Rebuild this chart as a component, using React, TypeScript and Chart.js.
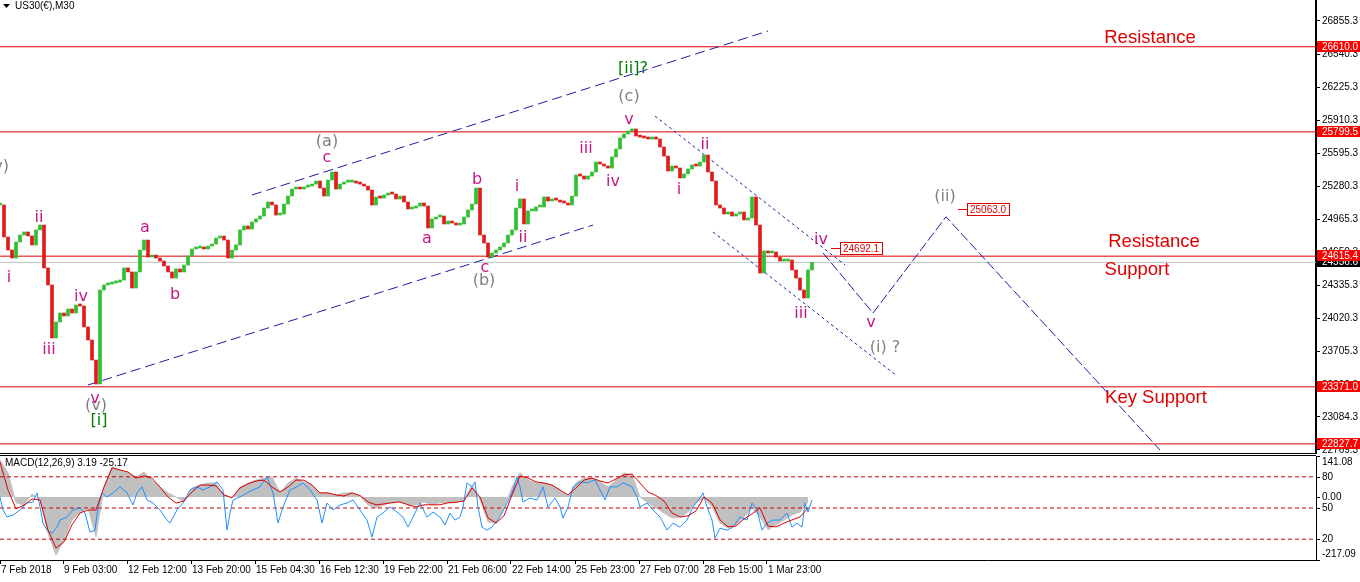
import React, { useEffect, useRef } from "react";
import { Chart, registerables } from "chart.js";

Chart.register(...registerables);

// ---------------- data ----------------
const symbolTitle = "US30(€),M30";
const macdTitle = "MACD(12,26,9) 3.19 -25.17";

// each close stands for a 2-hour block (4 x M30 bars)
const barsPerClose = 4;
const closePrices = [
  25103, 24798, 24674, 24598, 24750, 24817, 24846, 24808, 24722, 24865,
  24912, 24503, 24341, 23836, 23988, 24074, 24046, 24112, 24074, 24150,
  24141, 23941, 23817, 23626, 23398, 24293, 24341, 24350, 24360, 24369,
  24388, 24503, 24465, 24312, 24465, 24674, 24769, 24607, 24626, 24598,
  24569, 24522, 24465, 24407, 24493, 24465, 24531, 24617, 24684, 24693,
  24703, 24684, 24712, 24731, 24788, 24807, 24769, 24598, 24674, 24722,
  24865, 24903, 24874, 24941, 24969, 24998, 25074, 25131, 25103, 25007,
  25017, 25112, 25188, 25255, 25264, 25255, 25274, 25283, 25302, 25331,
  25264, 25188, 25340, 25417, 25255, 25302, 25321, 25321, 25331, 25312,
  25302, 25283, 25245, 25103, 25179, 25169, 25198, 25217, 25207, 25160,
  25188, 25131, 25065, 25074, 25093, 25122, 25093, 24884, 24969, 24988,
  24998, 24922, 24950, 24931, 24912, 24922, 24988, 25055, 25112, 25264,
  24817, 24741, 24607, 24645, 24674, 24703, 24741, 24817, 24865, 25074,
  25160, 24922, 25046, 25046, 25084, 25084, 25179, 25141, 25160, 25150,
  25131, 25122, 25103, 25188, 25388, 25379, 25350, 25379, 25417, 25512,
  25493, 25474, 25455, 25560, 25636, 25741, 25779, 25808, 25827, 25760,
  25750, 25741, 25731, 25750, 25731, 25655, 25569, 25427, 25474, 25455,
  25360, 25398, 25446, 25484, 25474, 25512, 25579, 25417, 25331, 25103,
  25074, 25017, 25036, 24998, 25017, 25036, 24960, 24979, 25179, 24912,
  24455, 24665, 24646, 24655, 24607, 24569, 24569, 24579, 24484, 24407,
  24293, 24217, 24484, 24557,
];

const priceMin = 22731.1;
const priceMax = 27055.3;
const priceTicks = [
  26855.3, 26540.3, 26225.3, 25910.3, 25595.3, 25280.3, 24965.3, 24650.3,
  24335.3, 24020.3, 23705.3, 23390.3, 23084.3, 22769.3,
];
const levelPrices = [26610.0, 25799.5, 24615.4, 23371.0, 22827.7];
const bidPrice = 24556.6;

const timeTickBars = [0, 63, 127, 191, 255, 319, 383, 447, 511, 575, 639, 703, 767];
const timeTickLabels = [
  "7 Feb 2018", "9 Feb 03:00", "12 Feb 12:00", "13 Feb 20:00", "15 Feb 04:30",
  "16 Feb 12:30", "19 Feb 22:00", "21 Feb 06:00", "22 Feb 14:00", "25 Feb 23:00",
  "27 Feb 07:00", "28 Feb 15:00", "1 Mar 23:00",
];

// MACD sampled every 4 hours (8 x M30 bars)
const barsPerMacd = 8;
const macdMain = [
  127, 83, -20, -28, 10, -10, -124, -200, -148, -79,
  -52, -38, -138, 34, 103, 93, 83, 69, 86, 58,
  34, 14, 0, -17, 31, 41, 48, 48, 7, -3,
  34, 48, 58, 65, 69, 14, 48, 65, 52, 41,
  14, 14, 7, 14, 14, 2, -27, -38, -27, -17,
  -17, -27, -27, -17, -27, -20, -20, -20, -10, 41,
  -10, -86, -90, -38, 34, 83, 58, 48, 48, 41,
  24, 3, 48, 65, 65, 52, 34, 58, 83, 76,
  0, -20, -38, -55, -72, -69, -52, -20, -3, -34,
  -90, -107, -96, -69, -38, -69, -113, -96, -79, -62,
  -52, -17,
];
const macdSignal = [
  120, 24, -41, -28, -7, -10, -114, -176, -155, -96,
  -55, -45, -45, 34, 100, 93, 86, 65, 72, 65,
  34, 0, -21, -14, 17, 41, 41, 38, 7, -3,
  31, 45, 55, 58, 34, 17, 34, 58, 58, 41,
  14, 14, 7, 3, 14, 5, -17, -27, -24, -20,
  -17, -27, -34, -27, -27, -27, -20, -18, -14, 31,
  0, -72, -90, -65, 7, 72, 65, 52, 48, 41,
  24, 7, 31, 58, 65, 55, 48, 62, 76, 79,
  48, 17, 5, -14, -55, -69, -65, -48, 0, -21,
  -79, -103, -100, -76, -58, -38, -100, -103, -90, -79,
  -69, -38,
];
const macdMax = 141.08;
const macdMin = -217.09;

const rsiBars = [
  0, 3, 7, 13, 20, 27, 33, 37, 40, 43, 47, 52, 57, 60, 67, 73, 80, 85, 90, 95,
  98, 102, 107, 113, 120, 127, 133, 137, 142, 147, 153, 160, 167, 170, 177, 183, 190, 197, 203, 210,
  217, 223, 227, 230, 233, 240, 247, 253, 260, 267, 273, 278, 283, 290, 297, 303, 310, 317, 322, 327,
  333, 340, 347, 353, 360, 367, 372, 377, 383, 390, 397, 403, 408, 413, 420, 427, 433, 440, 445, 450,
  455, 460, 463, 467, 472, 475, 478, 482, 487, 492, 495, 500, 507, 512, 517, 520, 523, 530, 537, 543,
  548, 555, 560, 563, 568, 573, 580, 587, 595, 600, 605, 610, 617, 623, 632, 637, 640, 647, 653, 660,
  667, 673, 680, 687, 693, 700, 703, 707, 712, 715, 720, 727, 733, 740, 747, 752, 757, 762, 767, 773,
  780, 787, 792, 797, 802, 805, 808, 812,
];
const rsiValues = [
  60.6, 48.1, 41.3, 43.2, 48.1, 54.8, 55.8, 64.5, 51.0, 35.5, 28.7, 25.8, 31.6, 38.4, 41.3, 48.1, 50.0, 45.2, 26.8, 28.7,
  51.0, 64.5, 60.6, 64.5, 70.3, 64.5, 52.9, 64.5, 70.3, 57.7, 54.8, 48.1, 38.4, 35.5, 48.1, 54.8, 67.4, 70.3, 67.4, 70.3,
  75.1, 67.4, 28.7, 45.2, 57.7, 60.6, 64.5, 67.4, 70.3, 80.0, 64.5, 35.5, 51.0, 67.4, 70.3, 74.2, 67.4, 57.7, 35.5, 54.8,
  48.1, 52.9, 54.8, 57.7, 48.1, 38.4, 22.0, 41.3, 45.2, 51.0, 46.1, 41.3, 31.6, 41.3, 54.8, 41.3, 46.1, 41.3, 33.6, 45.2,
  38.4, 41.3, 51.0, 74.2, 70.3, 75.1, 51.0, 31.6, 28.7, 31.6, 35.5, 41.3, 54.8, 64.5, 80.0, 70.3, 55.8, 59.7, 57.7, 70.3,
  51.0, 59.7, 51.0, 40.3, 51.0, 70.3, 75.1, 74.2, 77.1, 67.4, 57.7, 70.3, 70.3, 74.2, 70.3, 60.6, 51.0, 54.8, 48.1, 41.3,
  28.7, 35.5, 31.6, 38.4, 51.0, 59.7, 64.5, 51.0, 38.4, 21.0, 30.6, 28.7, 31.6, 41.3, 38.4, 54.8, 48.1, 28.7, 35.5, 38.4,
  38.4, 45.2, 31.6, 35.5, 31.6, 54.8, 46.1, 57.7,
];
const rsiLevels = [80, 50, 20];

// trend / channel lines (bar index, price)
const upperChannelBars = [252, 768];
const upperChannelPrices = [25198, 26760];
const lowerChannelBars = [88, 593];
const lowerChannelPrices = [23388, 24912];
const downUpperBars = [655, 845];
const downUpperPrices = [25950, 24531];
const downLowerBars = [713, 897];
const downLowerPrices = [24846, 23474];
const projectionBars = [823, 873, 946, 1160];
const projectionPrices = [24646, 24074, 24990, 22769];

// wave labels: bar, price, text, style (m = minor, g = gray, G = green, R = red note)
const waveLabels: [number, number, string, string][] = [
  [-2, 25465, "(v)", "g"],
  [9, 24407, "i", "m"],
  [39, 24979, "ii", "m"],
  [49, 23722, "iii", "m"],
  [81, 24226, "iv", "m"],
  [95, 23255, "v", "m"],
  [96, 23188, "(v)", "g"],
  [99, 23045, "[i]", "G"],
  [145, 24884, "a", "m"],
  [175, 24245, "b", "m"],
  [327, 25703, "(a)", "g"],
  [327, 25550, "c", "m"],
  [477, 25341, "b", "m"],
  [427, 24779, "a", "m"],
  [485, 24503, "c", "m"],
  [484, 24379, "(b)", "g"],
  [517, 25274, "i", "m"],
  [523, 24788, "ii", "m"],
  [586, 25636, "iii", "m"],
  [613, 25322, "iv", "m"],
  [629, 25912, "v", "m"],
  [629, 26131, "(c)", "g"],
  [633, 26398, "[ii]?", "G"],
  [705, 25674, "ii", "m"],
  [679, 25246, "i", "m"],
  [801, 24065, "iii", "m"],
  [821, 24769, "iv", "m"],
  [871, 23979, "v", "m"],
  [885, 23741, "(i) ?", "g"],
  [945, 25179, "(ii)", "g"],
  [1150, 26693, "Resistance", "R"],
  [1154, 24750, "Resistance", "R"],
  [1137, 24484, "Support", "R"],
  [1156, 23264, "Key Support", "R"],
];
const targetBars = [831, 958];
const targetPrices = [24692.1, 25063.0];

// ---------------- styles ----------------
const AXIS_FONT = { family: "'Liberation Sans', Arial, sans-serif", size: 10 };
const UP = "#2fbf2f";
const DOWN = "#e01b1b";
const LEVEL_RED = "#e00000";
const LINE_BLUE = "#1c1ca8";
const labelStyles: Record<string, { color: string; font: string }> = {
  m: { color: "#c71585", font: "16px 'DejaVu Sans', sans-serif" },
  g: { color: "#808080", font: "16px 'DejaVu Sans', sans-serif" },
  G: { color: "#008000", font: "16px 'DejaVu Sans', sans-serif" },
  R: { color: "#e00000", font: "18.5px 'Liberation Sans', Arial, sans-serif" },
};

function lineDataset(bars: number[], values: number[], color: string, dash: number[], yAxisID = "y", extra: any = {}) {
  return {
    type: "line" as const,
    data: bars.map((b, i) => ({ x: b, y: values[i] })),
    borderColor: color,
    borderWidth: 1,
    borderDash: dash,
    pointRadius: 0,
    fill: false,
    tension: 0,
    yAxisID,
    xAxisID: "x",
    ...extra,
  };
}

const mainDecor = {
  id: "mainDecor",
  afterDatasetsDraw(chart: any) {
    const { ctx, chartArea } = chart;
    const xs = chart.scales.x;
    const ys = chart.scales.y;
    ctx.save();
    // bottom frame
    ctx.strokeStyle = "#000";
    ctx.lineWidth = 1;
    ctx.beginPath();
    ctx.moveTo(0, chartArea.bottom - 0.5);
    ctx.lineTo(chartArea.right, chartArea.bottom - 0.5);
    ctx.stroke();
    // wave labels
    ctx.textAlign = "center";
    ctx.textBaseline = "middle";
    for (const [bar, price, text, style] of waveLabels) {
      const st = labelStyles[style];
      ctx.font = st.font;
      ctx.fillStyle = st.color;
      ctx.fillText(text, xs.getPixelForValue(bar), ys.getPixelForValue(price));
    }
    // target tags
    ctx.font = "10px 'Liberation Sans', Arial, sans-serif";
    ctx.textAlign = "left";
    targetBars.forEach((bar, i) => {
      const px = Math.round(xs.getPixelForValue(bar));
      const py = Math.round(ys.getPixelForValue(targetPrices[i]));
      ctx.strokeStyle = LEVEL_RED;
      ctx.beginPath();
      ctx.moveTo(px, py + 0.5);
      ctx.lineTo(px + 9, py + 0.5);
      ctx.stroke();
      ctx.fillStyle = "#fff";
      ctx.fillRect(px + 9, py - 6, 42, 12);
      ctx.strokeRect(px + 9.5, py - 5.5, 42, 12);
      ctx.fillStyle = LEVEL_RED;
      ctx.fillText(targetPrices[i].toFixed(1), px + 12, py + 1);
    });
    // title
    ctx.fillStyle = "#000";
    ctx.beginPath();
    ctx.moveTo(3, 4);
    ctx.lineTo(10, 4);
    ctx.lineTo(6.5, 8);
    ctx.closePath();
    ctx.fill();
    ctx.font = "10px 'Liberation Sans', Arial, sans-serif";
    ctx.textBaseline = "middle";
    ctx.fillText(symbolTitle, 15, 6);
    ctx.restore();
  },
  afterDraw(chart: any) {
    const { ctx, chartArea } = chart;
    const ys = chart.scales.y;
    ctx.save();
    ctx.font = "10px 'Liberation Sans', Arial, sans-serif";
    ctx.textAlign = "left";
    ctx.textBaseline = "middle";
    const box = (price: number, bg: string) => {
      const py = Math.round(ys.getPixelForValue(price));
      ctx.fillStyle = bg;
      ctx.fillRect(chartArea.right + 1, py - 6, 44, 11);
      ctx.fillStyle = "#fff";
      ctx.fillText(price.toFixed(1), chartArea.right + 6, py);
    };
    box(bidPrice, "#000");
    levelPrices.forEach((p) => box(p, "#ff0000"));
    ctx.restore();
  },
};

const macdDecor = {
  id: "macdDecor",
  afterDraw(chart: any) {
    const { ctx, chartArea } = chart;
    const yM = chart.scales.yM;
    const yR = chart.scales.yR;
    ctx.save();
    ctx.strokeStyle = "#000";
    ctx.lineWidth = 1;
    ctx.beginPath();
    ctx.moveTo(0, chartArea.top - 0.5);
    ctx.lineTo(chartArea.right, chartArea.top - 0.5);
    ctx.stroke();
    ctx.font = "10px 'Liberation Sans', Arial, sans-serif";
    ctx.fillStyle = "#000";
    ctx.textAlign = "left";
    ctx.textBaseline = "middle";
    ctx.fillText(macdTitle, 5, chartArea.top + 7);
    const rx = chartArea.right;
    const lab = (text: string, py: number, base: string) => {
      ctx.beginPath();
      ctx.moveTo(rx, Math.round(py) + 0.5);
      ctx.lineTo(rx + 4, Math.round(py) + 0.5);
      ctx.stroke();
      ctx.textBaseline = base as CanvasTextBaseline;
      const ty = base === "top" ? py + 1 : base === "bottom" ? py - 1 : py;
      ctx.fillText(text, rx + 6, ty);
    };
    lab(macdMax.toFixed(2), yM.getPixelForValue(macdMax), "top");
    lab((0).toFixed(2), yM.getPixelForValue(0), "middle");
    lab(macdMin.toFixed(2), yM.getPixelForValue(macdMin), "bottom");
    rsiLevels.forEach((l) => lab(String(l), yR.getPixelForValue(l), "middle"));
    ctx.restore();
  },
};

export default function App() {
  const mainRef = useRef<HTMLCanvasElement>(null);
  const macdRef = useRef<HTMLCanvasElement>(null);

  useEffect(() => {
    const candles = {
      type: "bar" as const,
      data: closePrices.map((c, i) => ({
        x: i * barsPerClose,
        y: [i > 0 ? closePrices[i - 1] : c, c],
      })),
      backgroundColor: closePrices.map((c, i) => (i > 0 && c < closePrices[i - 1] ? DOWN : UP)),
      borderWidth: 0,
      barThickness: 3,
      minBarLength: 2,
      grouped: false,
      xAxisID: "x",
      yAxisID: "y",
    };
    const levelSets = levelPrices.map((p) => lineDataset([0, 1316], [p, p], LEVEL_RED, []));
    const bidSet = lineDataset([0, 1316], [bidPrice, bidPrice], "#c0c0c0", []);

    const main = new Chart(mainRef.current!, {
      type: "bar",
      data: {
        datasets: [
          candles as any,
          lineDataset(upperChannelBars, upperChannelPrices, LINE_BLUE, [10, 5]),
          lineDataset(lowerChannelBars, lowerChannelPrices, LINE_BLUE, [10, 5]),
          lineDataset(downUpperBars, downUpperPrices, LINE_BLUE, [3, 3]),
          lineDataset(downLowerBars, downLowerPrices, LINE_BLUE, [3, 3]),
          lineDataset(projectionBars, projectionPrices, LINE_BLUE, [10, 3]),
          ...levelSets,
          bidSet,
        ],
      },
      options: {
        responsive: false,
        maintainAspectRatio: false,
        animation: false,
        events: [],
        layout: { padding: 0 },
        plugins: { legend: { display: false }, tooltip: { enabled: false } },
        scales: {
          x: { type: "linear", min: 0, max: 1316, display: false, offset: false },
          y: {
            type: "linear",
            position: "right",
            min: priceMin,
            max: priceMax,
            afterBuildTicks: (s: any) => {
              s.ticks = priceTicks.map((v) => ({ value: v }));
            },
            afterFit: (s: any) => {
              s.width = 44;
              s.paddingTop = 0;
              s.paddingBottom = 0;
            },
            ticks: {
              callback: (v: any) => Number(v).toFixed(1),
              font: AXIS_FONT,
              color: "#000",
              padding: 2,
              autoSkip: false,
            },
            grid: { drawOnChartArea: false, drawTicks: true, tickLength: 4, tickColor: "#000" },
            border: { display: true, color: "#000", width: 2 },
          },
        },
      } as any,
      plugins: [mainDecor],
    });

    const macd = new Chart(macdRef.current!, {
      type: "line",
      data: {
        datasets: [
          lineDataset(macdSignal.map((_, i) => i * barsPerMacd), macdSignal, "#e00000", [], "yM"),
          lineDataset(rsiBars, rsiValues, "#1e90ff", [], "yR"),
          ...rsiLevels.map((l) => lineDataset([0, 1316], [l, l], "#c80000", [4, 3], "yR")),
          lineDataset(macdMain.map((_, i) => i * barsPerMacd), macdMain, "#c0c0c0", [], "yM", {
            fill: "origin",
            backgroundColor: "#c0c0c0",
          }),
        ] as any,
      },
      options: {
        responsive: false,
        maintainAspectRatio: false,
        animation: false,
        events: [],
        layout: { padding: { top: 2, left: 0, right: 0, bottom: 0 } },
        plugins: { legend: { display: false }, tooltip: { enabled: false } },
        scales: {
          x: {
            type: "linear",
            min: 0,
            max: 1316,
            position: "bottom",
            offset: false,
            afterBuildTicks: (s: any) => {
              s.ticks = timeTickBars.map((v) => ({ value: v }));
            },
            afterFit: (s: any) => {
              s.height = 22;
              s.paddingLeft = 0;
              s.paddingRight = 0;
            },
            ticks: {
              callback: (_v: any, i: number) => timeTickLabels[i],
              align: "start",
              labelOffset: 1,
              padding: 0,
              maxRotation: 0,
              minRotation: 0,
              autoSkip: false,
              font: AXIS_FONT,
              color: "#000",
            },
            grid: { drawOnChartArea: false, drawTicks: true, tickLength: 4, tickColor: "#000" },
            border: { display: true, color: "#000", width: 1 },
          },
          yR: {
            type: "linear",
            position: "right",
            min: 0,
            max: 100,
            ticks: { display: false },
            grid: { drawOnChartArea: false, drawTicks: false },
            border: { display: true, color: "#000", width: 1 },
            afterFit: (s: any) => {
              s.width = 44;
              s.paddingTop = 0;
              s.paddingBottom = 0;
            },
          },
          yM: { type: "linear", display: false, min: macdMin, max: macdMax },
        },
      } as any,
      plugins: [macdDecor],
    });

    return () => {
      main.destroy();
      macd.destroy();
    };
  }, []);

  return (
    <div style={{ position: "fixed", left: 0, top: 0, width: 1360, height: 582, background: "#fff", overflow: "hidden" }}>
      <canvas ref={mainRef} width={1360} height={454} style={{ position: "absolute", left: 0, top: 0, display: "block" }} />
      <canvas ref={macdRef} width={1360} height={128} style={{ position: "absolute", left: 0, top: 454, display: "block" }} />
    </div>
  );
}
